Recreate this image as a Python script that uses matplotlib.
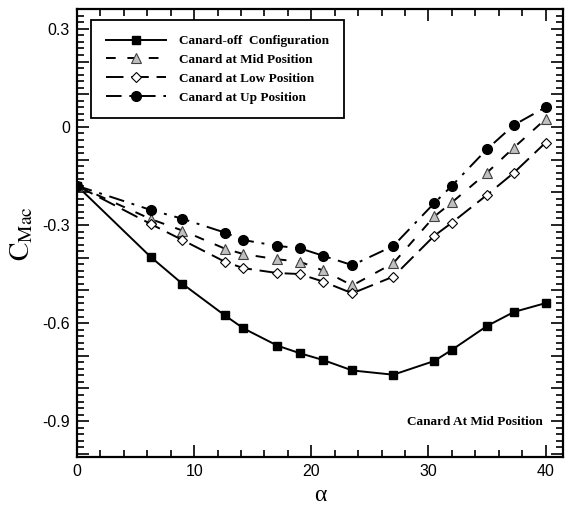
import matplotlib
matplotlib.use('Agg')
import matplotlib.pyplot as plt
import matplotlib.ticker as ticker

plt.rcParams['font.family'] = ['Liberation Sans', 'DejaVu Sans']
plt.rcParams['mathtext.fontset'] = 'stix'
plt.rcParams['axes.unicode_minus'] = False

# angle of attack (deg)
alpha = [0, 6.3, 9.0, 12.6, 14.2, 17.1, 19.0, 21.0, 23.5, 27.0, 30.5, 32.0, 35.0, 37.3, 40.0]

cm_off = [-0.18, -0.398, -0.48, -0.576, -0.616, -0.669, -0.692, -0.713, -0.745, -0.758,
          -0.716, -0.682, -0.609, -0.566, -0.539]
cm_mid = [-0.18, -0.282, -0.317, -0.372, -0.389, -0.405, -0.412, -0.439, -0.485, -0.417,
          -0.274, -0.231, -0.140, -0.063, 0.024]
cm_low = [-0.18, -0.297, -0.346, -0.412, -0.432, -0.447, -0.450, -0.473, -0.509, -0.458,
          -0.333, -0.293, -0.208, -0.140, -0.048]
cm_up = [-0.18, -0.254, -0.281, -0.323, -0.346, -0.364, -0.371, -0.394, -0.423, -0.364,
         -0.233, -0.180, -0.068, 0.006, 0.060]

labels = ['Canard-off  Configuration', 'Canard at Mid Position',
          'Canard at Low Position', 'Canard at Up Position']

fig = plt.figure(figsize=(5.66, 5.13), dpi=100)
ax = fig.add_axes([0.136, 0.109, 0.859, 0.873])

ax.plot(alpha, cm_off, '-', color='black', lw=1.4, marker='s', ms=6,
        mfc='black', mec='black', label=labels[0])
ax.plot(alpha, cm_mid, color='black', lw=1.4, dashes=(5, 6), marker='^', ms=7,
        mfc='#c0c0c0', mec='#404040', mew=0.8, label=labels[1])
ax.plot(alpha, cm_low, color='black', lw=1.4, dashes=(9, 4), marker='D', ms=5.5,
        mfc='white', mec='black', mew=0.8, label=labels[2])
ax.plot(alpha, cm_up, color='black', lw=1.4, dashes=(8, 4, 1.5, 4), marker='o', ms=7,
        mfc='black', mec='black', label=labels[3])

ax.set_xlim(0, 41.5)
ax.set_ylim(-1.01, 0.36)

ax.xaxis.set_major_locator(ticker.MultipleLocator(10))
ax.xaxis.set_minor_locator(ticker.MultipleLocator(2))
ax.yaxis.set_major_locator(ticker.MultipleLocator(0.1))
ax.yaxis.set_minor_locator(ticker.MultipleLocator(0.02))


def ylab(v, pos):
    k = round(v / 0.3 * 10)
    if k % 10 == 0:
        r = round(v, 1)
        if r == 0:
            return '0'
        return '%.1f' % r
    return ''


ax.yaxis.set_major_formatter(ticker.FuncFormatter(ylab))
ax.tick_params(which='both', direction='in', top=True, right=True, width=1.2, labelsize=11.5)
ax.tick_params(which='major', length=8.5, pad=5)
ax.tick_params(which='minor', length=5)
for s in ax.spines.values():
    s.set_linewidth(1.6)

ax.set_xlabel('α', family='Liberation Serif', fontsize=17, labelpad=4)
ax.set_ylabel(r'$\mathrm{C}_{\mathrm{Mac}}$', fontsize=20, labelpad=5)

leg = ax.legend(loc='upper left', bbox_to_anchor=(0.029, 0.975), borderaxespad=0,
                prop={'family': 'Liberation Serif', 'weight': 'bold', 'size': 9.5},
                handlelength=4.6, fancybox=False, edgecolor='black', framealpha=1,
                borderpad=1.1, labelspacing=0.5, handletextpad=1.0)
leg.get_frame().set_linewidth(1.3)

ax.text(0.957, 0.078, 'Canard At Mid Position', transform=ax.transAxes,
        ha='right', va='center', family='Liberation Serif', weight='bold', fontsize=9.5)

fig.savefig('out.png', dpi=100)
